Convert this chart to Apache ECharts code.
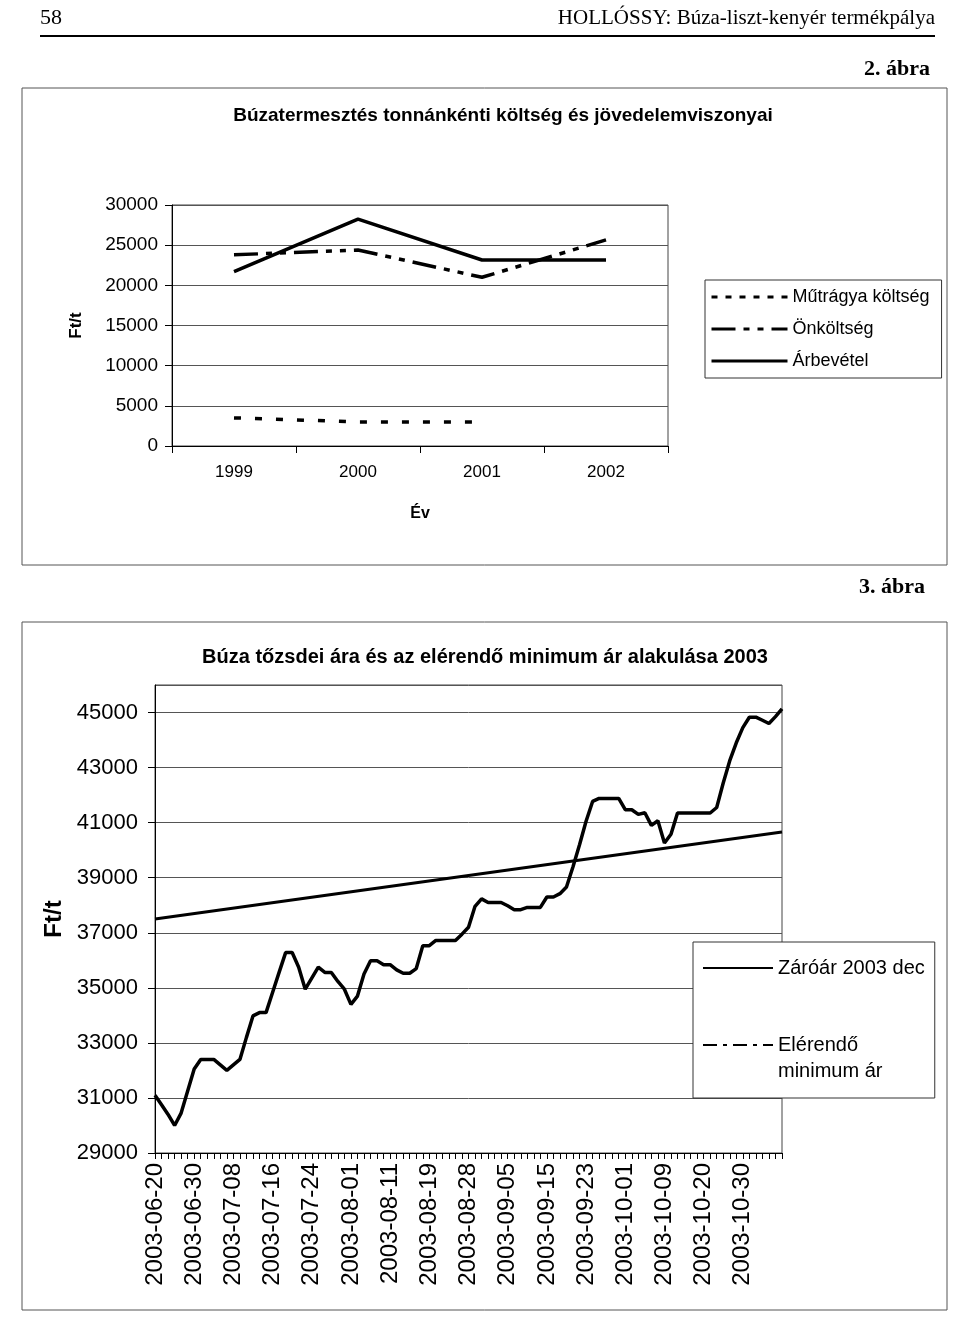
<!DOCTYPE html>
<html><head><meta charset="utf-8">
<script src="https://cdn.jsdelivr.net/npm/echarts@6/dist/echarts.min.js"></script>
<style>html,body{margin:0;padding:0;background:#fff;}#c{width:960px;height:1334px;}</style>
</head><body><div id="c"></div>
<script>
// ---- Chart 1 (2. ábra) ----
const years = ['1999', '2000', '2001', '2002'];
const mutragya = [3500, 3000, 3000, null];
const onkoltseg = [23800, 24400, 21000, 25650];
const arbevetel = [21700, 28250, 23150, 23150];

// ---- Chart 2 (3. ábra) ----
const dates = ['2003-06-20','2003-06-23','2003-06-24','2003-06-25','2003-06-26','2003-06-27','2003-06-30','2003-07-01','2003-07-02','2003-07-03','2003-07-04','2003-07-07','2003-07-08','2003-07-09','2003-07-10','2003-07-11','2003-07-14','2003-07-15','2003-07-16','2003-07-17','2003-07-18','2003-07-21','2003-07-22','2003-07-23','2003-07-24','2003-07-25','2003-07-28','2003-07-29','2003-07-30','2003-07-31','2003-08-01','2003-08-04','2003-08-05','2003-08-06','2003-08-07','2003-08-08','2003-08-11','2003-08-12','2003-08-13','2003-08-14','2003-08-15','2003-08-18','2003-08-19','2003-08-21','2003-08-22','2003-08-25','2003-08-26','2003-08-27','2003-08-28','2003-08-29','2003-09-01','2003-09-02','2003-09-03','2003-09-04','2003-09-05','2003-09-08','2003-09-09','2003-09-10','2003-09-11','2003-09-12','2003-09-15','2003-09-16','2003-09-17','2003-09-18','2003-09-19','2003-09-22','2003-09-23','2003-09-24','2003-09-25','2003-09-26','2003-09-29','2003-09-30','2003-10-01','2003-10-02','2003-10-03','2003-10-06','2003-10-07','2003-10-08','2003-10-09','2003-10-10','2003-10-13','2003-10-14','2003-10-15','2003-10-16','2003-10-20','2003-10-21','2003-10-22','2003-10-27','2003-10-28','2003-10-29','2003-10-30','2003-10-31','2003-11-03','2003-11-04','2003-11-05','2003-11-06','2003-11-07'];
const zaroar = [
  31100, 30750, 30400, 30000, 30450, 31250, 32050, 32400, 32400, 32400,
  32200, 32000, 32200, 32400, 33200, 33980, 34100, 34100, 34830, 35560,
  36280, 36280, 35750, 34950, 35350, 35750, 35560, 35560, 35230, 34950,
  34400, 34700, 35500, 35980, 35980, 35840, 35840, 35650, 35530, 35530,
  35700, 36530, 36530, 36720, 36720, 36720, 36720, 36950, 37200, 37960,
  38230, 38100, 38100, 38100, 37980, 37840, 37840, 37920, 37920, 37920,
  38300, 38300, 38420, 38660, 39400, 40200, 41050, 41770, 41880, 41880,
  41880, 41880, 41470, 41470, 41300, 41360, 40900, 41070, 40260, 40580,
  41350, 41350, 41350, 41350, 41350, 41350, 41550, 42440, 43250, 43900,
  44450, 44830, 44830, 44720, 44600, 44850, 45130
];
// minimum price: first and last value, straight line between them
const minimumEnds = [37500, 40660];
const labelEvery = 6;      // one date label every 6 trading days
const lastLabelIndex = 90; // 2003-10-30

const F = '"Liberation Sans", Arial, sans-serif';
const S = '"Liberation Serif", "Times New Roman", serif';
const minimumData = dates.map((d, i) => i === 0 ? minimumEnds[0] : (i === dates.length - 1 ? minimumEnds[1] : null));
const plain = v => String(v);

const chart = echarts.init(document.getElementById('c'), null, {renderer: 'canvas'});
const gridLine = {lineStyle: {color: '#555', width: 1}};
const option = {
  animation: false,
  backgroundColor: '#fff',
  color: ['#000', '#000', '#000', '#000', '#000'],
  textStyle: {fontFamily: F, color: '#000'},
  title: [
    {text: 'Búzatermesztés tonnánkénti költség és jövedelemviszonyai', left: 498, top: 101, textAlign: 'center',
     textStyle: {fontFamily: F, fontSize: 19, fontWeight: 'bold', color: '#000'}},
    {text: 'Búza tőzsdei ára és az elérendő minimum ár alakulása 2003', left: 480, top: 642, textAlign: 'center',
     textStyle: {fontFamily: F, fontSize: 20, fontWeight: 'bold', color: '#000'}}
  ],
  grid: [
    {left: 172, top: 205, width: 496, height: 241, show: true, borderColor: '#444', borderWidth: 1, backgroundColor: 'transparent'},
    {left: 155, top: 685, width: 627, height: 468, show: true, borderColor: '#444', borderWidth: 1, backgroundColor: 'transparent'}
  ],
  xAxis: [
    {type: 'category', gridIndex: 0, data: years, boundaryGap: true,
     name: 'Év', nameLocation: 'middle', nameGap: 60,
     nameTextStyle: {fontFamily: F, fontSize: 16, fontWeight: 'bold', color: '#000'},
     axisLine: {lineStyle: {color: '#000', width: 1}},
     axisTick: {show: true, length: 7, lineStyle: {color: '#000'}},
     axisLabel: {fontSize: 17, color: '#000', margin: 18}},
    {type: 'category', gridIndex: 1, data: dates, boundaryGap: false,
     axisLine: {lineStyle: {color: '#000', width: 1}},
     axisTick: {show: true, interval: 0, length: 6, lineStyle: {color: '#000'}},
     axisLabel: {interval: (i) => i % labelEvery === 0 && i <= lastLabelIndex,
                 rotate: 90, fontSize: 24, color: '#000', margin: 10}}
  ],
  yAxis: [
    {type: 'value', gridIndex: 0, min: 0, max: 30000, interval: 5000,
     name: 'Ft/t', nameLocation: 'middle', nameGap: 87,
     nameTextStyle: {fontFamily: F, fontSize: 17, fontWeight: 'bold', color: '#000'},
     axisLine: {show: true, lineStyle: {color: '#000'}},
     axisTick: {show: true, length: 7, lineStyle: {color: '#000'}},
     axisLabel: {fontSize: 19, color: '#000', margin: 14, formatter: plain},
     splitLine: gridLine},
    {type: 'value', gridIndex: 1, min: 29000, max: 46000, interval: 2000,
     name: 'Ft/t', nameLocation: 'middle', nameGap: 83,
     nameTextStyle: {fontFamily: F, fontSize: 24, fontWeight: 'bold', color: '#000'},
     axisLine: {show: true, lineStyle: {color: '#000'}},
     axisTick: {show: true, length: 7, lineStyle: {color: '#000'}},
     axisLabel: {fontSize: 22, color: '#000', margin: 17, showMaxLabel: false, formatter: plain},
     splitLine: gridLine}
  ],
  legend: [
    {orient: 'vertical', left: 705, top: 280, itemWidth: 76, itemHeight: 14, itemGap: 12,
     padding: [7, 12, 7, 5], borderColor: '#333', borderWidth: 1, backgroundColor: '#fff',
     itemStyle: {opacity: 0},
     textStyle: {fontFamily: F, fontSize: 18, color: '#000', lineHeight: 20},
     data: [
       {name: 'Műtrágya költség', lineStyle: {type: [6, 8], width: 3}},
       {name: 'Önköltség', lineStyle: {type: [24, 8, 6, 8, 6, 8], width: 3}},
       {name: 'Árbevétel', lineStyle: {width: 3}}
     ]},
    {orient: 'vertical', left: 693, top: 942, itemWidth: 70, itemHeight: 14, itemGap: 25,
     padding: [13, 10, 14, 9], borderColor: '#333', borderWidth: 1, backgroundColor: '#fff',
     itemStyle: {opacity: 0},
     formatter: name => name.indexOf('\n') >= 0 ? ' \n' + name : name,
     textStyle: {fontFamily: F, fontSize: 20, color: '#000', lineHeight: 26},
     data: [
       {name: 'Záróár 2003 dec', lineStyle: {width: 2}},
       {name: 'Elérendő\nminimum ár', lineStyle: {type: [14, 6, 4, 6], width: 2}}
     ]}
  ],
  series: [
    {name: 'Műtrágya költség', type: 'line', xAxisIndex: 0, yAxisIndex: 0, data: mutragya, symbol: 'none',
     itemStyle: {color: '#000'}, lineStyle: {color: '#000', width: 3.5, type: [7, 14]}},
    {name: 'Önköltség', type: 'line', xAxisIndex: 0, yAxisIndex: 0, data: onkoltseg, symbol: 'none',
     itemStyle: {color: '#000'}, lineStyle: {color: '#000', width: 3.5, type: [24, 8, 6, 8, 6, 8]}},
    {name: 'Árbevétel', type: 'line', xAxisIndex: 0, yAxisIndex: 0, data: arbevetel, symbol: 'none',
     itemStyle: {color: '#000'}, lineStyle: {color: '#000', width: 3.5}},
    {name: 'Záróár 2003 dec', type: 'line', xAxisIndex: 1, yAxisIndex: 1, data: zaroar, symbol: 'none',
     itemStyle: {color: '#000'}, lineStyle: {color: '#000', width: 3.5}},
    {name: 'Elérendő\nminimum ár', type: 'line', xAxisIndex: 1, yAxisIndex: 1, data: minimumData, symbol: 'none',
     connectNulls: true, itemStyle: {color: '#000'}, lineStyle: {color: '#000', width: 2.8}}
  ],
  graphic: [
    {type: 'text', left: 40, top: 7, style: {text: '58', font: '22px ' + S, fill: '#000'}},
    {type: 'text', right: 25, top: 8, style: {text: 'HOLLÓSSY: Búza-liszt-kenyér termékpálya', font: '21px ' + S, fill: '#000'}},
    {type: 'line', shape: {x1: 40, y1: 36, x2: 935, y2: 36}, style: {stroke: '#000', lineWidth: 2}},
    {type: 'text', right: 30, top: 58, style: {text: '2. ábra', font: 'bold 22px ' + S, fill: '#000'}},
    {type: 'rect', shape: {x: 22, y: 88, width: 925, height: 477}, style: {fill: 'none', stroke: '#555', lineWidth: 1}, z: -1},
    {type: 'text', right: 35, top: 576, style: {text: '3. ábra', font: 'bold 22px ' + S, fill: '#000'}},
    {type: 'rect', shape: {x: 22, y: 622, width: 925, height: 688}, style: {fill: 'none', stroke: '#555', lineWidth: 1}, z: -1}
  ]
};
chart.setOption(option);
</script>
</body></html>
